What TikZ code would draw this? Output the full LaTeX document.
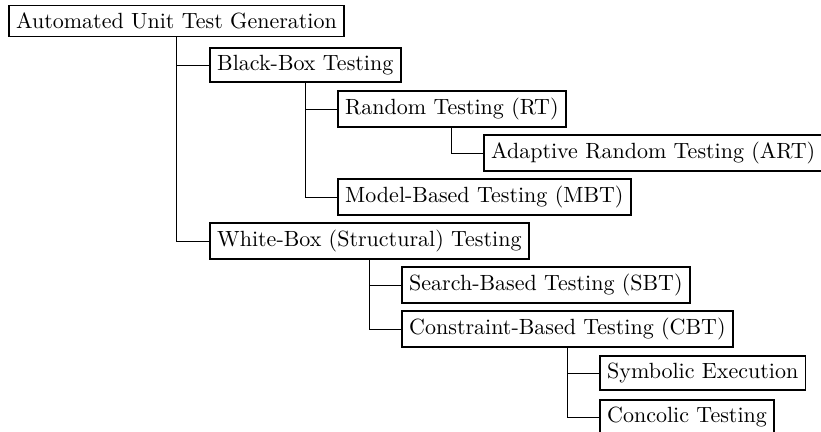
\documentclass[tikz,border=0pt]{standalone}
\begin{document}
\begin{tikzpicture}[x=0.4545pt, y=-0.4545pt,
  box/.style={draw, line width=0.8pt, anchor=west, inner sep=3.333pt},
  link/.style={line width=0.45pt}]
\useasboundingbox (0,0) rectangle (821,432);
\node[box] (root) at (8,21) {Automated Unit Test Generation};
\node[box] (bb) at (209,65) {Black-Box Testing};
\node[box] (rt) at (337,109) {Random Testing (RT)};
\node[box] (art) at (483,153) {Adaptive Random Testing (ART)};
\node[box] (mbt) at (337,197) {Model-Based Testing (MBT)};
\node[box] (wb) at (209,241) {White-Box (Structural) Testing};
\node[box] (sbt) at (401,285) {Search-Based Testing (SBT)};
\node[box] (cbt) at (401,329) {Constraint-Based Testing (CBT)};
\node[box] (sym) at (599,373) {Symbolic Execution};
\node[box] (conc) at (599,417) {Concolic Testing};
\draw[link] (root.south) |- (bb.west);
\draw[link] (root.south) |- (wb.west);
\draw[link] (bb.south) |- (rt.west);
\draw[link] (bb.south) |- (mbt.west);
\draw[link] (rt.south) |- (art.west);
\draw[link] (wb.south) |- (sbt.west);
\draw[link] (wb.south) |- (cbt.west);
\draw[link] (cbt.south) |- (sym.west);
\draw[link] (cbt.south) |- (conc.west);
\end{tikzpicture}
\end{document}
